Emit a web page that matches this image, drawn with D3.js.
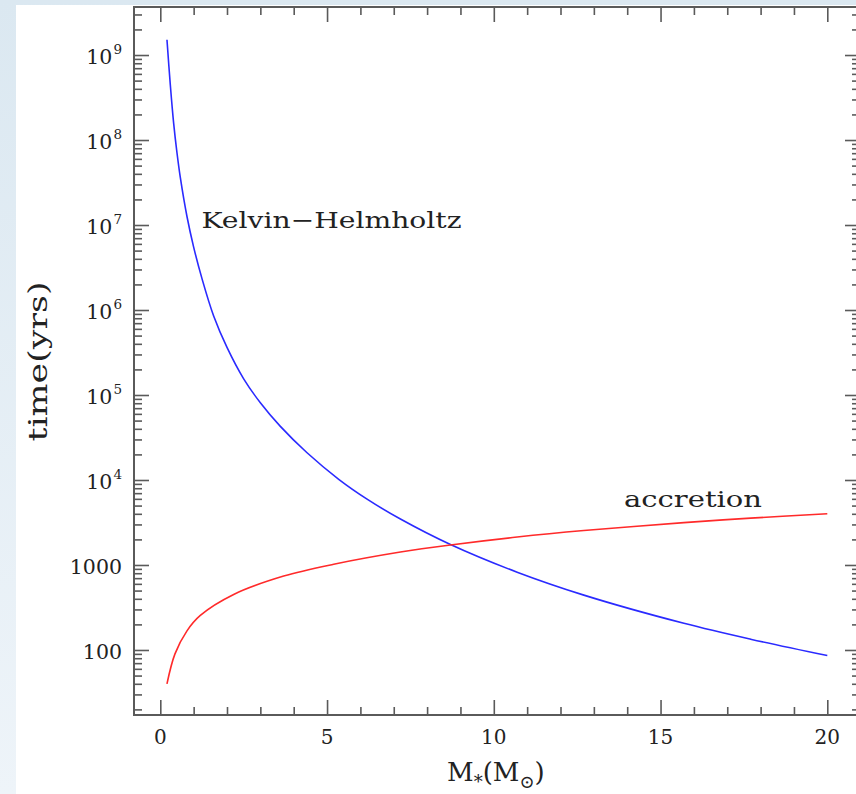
<!DOCTYPE html>
<html>
<head>
<meta charset="utf-8">
<script src="https://cdn.jsdelivr.net/npm/d3@7"></script>
<style>
  body { margin: 0; background: #fff; }
  svg { display: block; }
  text { font-family: "DejaVu Serif", serif; fill: #222; }
</style>
</head>
<body>
<svg id="chart" width="856" height="794"></svg>
<script>
// Kelvin-Helmholtz time vs stellar mass
const massKH = [0.2, 0.3, 0.4, 0.5, 0.6, 0.8, 1.0, 1.25, 1.6, 2.0, 2.5, 3.0, 3.6, 4.4, 5.35, 6.2, 7.2, 8.7, 10.7, 12.7, 15.7, 17.7, 20];
const timeKH = [1.51e9, 4.47e8, 1.58e8, 7.08e7, 3.63e7, 1.26e7, 5.5e6, 2.34e6, 8.5e5, 3.63e5, 1.55e5, 8.1e4, 4.27e4, 2.09e4, 1.02e4, 5960, 3470, 1740, 822, 442, 206, 134, 86];

// accretion time vs stellar mass
const massAcc = [0.2, 0.44, 0.8, 1.2, 2.2, 3.7, 5.2, 7.2, 8.7, 10.7, 12.7, 15.7, 17.7, 20];
const timeAcc = [40, 90, 168, 255, 450, 740, 1020, 1420, 1720, 2130, 2540, 3150, 3560, 4000];

const xMajorTicks = [0, 5, 10, 15, 20];
const xMinorTicks = [1, 2, 3, 4, 6, 7, 8, 9, 11, 12, 13, 14, 16, 17, 18, 19];
const yDecades = [100, 1000, 1e4, 1e5, 1e6, 1e7, 1e8, 1e9];
const yDecadeLabels = [["100", ""], ["1000", ""], ["10", "4"], ["10", "5"], ["10", "6"], ["10", "7"], ["10", "8"], ["10", "9"]];

const svg = d3.select("#chart");

// page background: light blue margin round a white panel
const defs = svg.append("defs");
const bg = defs.append("linearGradient").attr("id", "bg")
  .attr("x1", 0).attr("y1", 0).attr("x2", 0).attr("y2", 1);
bg.append("stop").attr("offset", 0).attr("stop-color", "#dbe8f1");
bg.append("stop").attr("offset", 1).attr("stop-color", "#eef4f9");
svg.append("rect").attr("width", 856).attr("height", 794).attr("fill", "url(#bg)");
svg.append("rect").attr("x", 16).attr("y", 5).attr("width", 840).attr("height", 789).attr("fill", "#fff");

// plot frame (pixels)
const plotLeft = 134, plotRight = 860, plotTop = 7, plotBottom = 715;

const x = d3.scaleLinear().domain([0, 20]).range([160.3, 827.3]);
const y = d3.scaleLog().domain([Math.pow(10, 1.235), Math.pow(10, 9.565)]).range([plotBottom, plotTop]);

const yMinorTicks = [];
for (let e = 1; e <= 9; e++) {
  for (let m = 2; m <= 9; m++) {
    const v = m * Math.pow(10, e);
    if (v >= y.domain()[0] && v <= y.domain()[1]) yMinorTicks.push(v);
  }
}

const axisColor = "#5a5a5a";
function styleAxis(g) {
  g.select(".domain").remove();
  g.selectAll("line").attr("stroke", axisColor).attr("stroke-width", 1.6);
  g.selectAll("text").remove();
}

// ticks on all four sides, pointing inwards
svg.append("g").attr("transform", `translate(0,${plotBottom})`)
  .call(d3.axisBottom(x).tickValues(xMajorTicks).tickSize(-15)).call(styleAxis);
svg.append("g").attr("transform", `translate(0,${plotBottom})`)
  .call(d3.axisBottom(x).tickValues(xMinorTicks).tickSize(-8)).call(styleAxis);
svg.append("g").attr("transform", `translate(0,${plotTop})`)
  .call(d3.axisTop(x).tickValues(xMajorTicks).tickSize(-15)).call(styleAxis);
svg.append("g").attr("transform", `translate(0,${plotTop})`)
  .call(d3.axisTop(x).tickValues(xMinorTicks).tickSize(-8)).call(styleAxis);

svg.append("g").attr("transform", `translate(${plotLeft},0)`)
  .call(d3.axisLeft(y).tickValues(yDecades).tickSize(-15)).call(styleAxis);
svg.append("g").attr("transform", `translate(${plotLeft},0)`)
  .call(d3.axisLeft(y).tickValues(yMinorTicks).tickSize(-8)).call(styleAxis);
svg.append("g").attr("transform", `translate(${plotRight},0)`)
  .call(d3.axisRight(y).tickValues(yDecades).tickSize(-15)).call(styleAxis);
svg.append("g").attr("transform", `translate(${plotRight},0)`)
  .call(d3.axisRight(y).tickValues(yMinorTicks).tickSize(-8)).call(styleAxis);

// frame
svg.append("rect")
  .attr("x", plotLeft).attr("y", plotTop)
  .attr("width", plotRight - plotLeft).attr("height", plotBottom - plotTop)
  .attr("fill", "none").attr("stroke", axisColor).attr("stroke-width", 2);

// x tick labels
svg.append("g").selectAll("text").data(xMajorTicks).join("text")
  .attr("x", d => x(d)).attr("y", 743.5)
  .attr("text-anchor", "middle").attr("font-size", 20)
  .text(d => d);

// y tick labels (100, 1000, 10^4 ...)
const yl = svg.append("g").selectAll("text").data(yDecades).join("text")
  .attr("x", 122).attr("y", d => y(d) + 9)
  .attr("text-anchor", "end").attr("font-size", 20.5);
yl.each(function(d, i) {
  const t = d3.select(this);
  const [base, sup] = yDecadeLabels[i];
  t.append("tspan").text(base);
  if (sup) t.append("tspan").attr("dx", 1).attr("dy", -10).attr("font-size", 13.5).text(sup);
});

// curves
const line = d3.line().x(d => x(d[0])).y(d => y(d[1])).curve(d3.curveCatmullRom.alpha(0.5));
svg.append("path")
  .attr("d", line(d3.zip(massKH, timeKH)))
  .attr("fill", "none").attr("stroke", "#2a2aff").attr("stroke-width", 1.6);
svg.append("path")
  .attr("d", line(d3.zip(massAcc, timeAcc)))
  .attr("fill", "none").attr("stroke", "#ff2a2a").attr("stroke-width", 1.6);

// curve labels
svg.append("text").attr("x", 201.5).attr("y", 228).attr("font-size", 23)
  .attr("textLength", 260).attr("lengthAdjust", "spacingAndGlyphs")
  .text("Kelvin\u2212Helmholtz");
svg.append("text").attr("x", 624).attr("y", 506.5).attr("font-size", 23)
  .attr("textLength", 138).attr("lengthAdjust", "spacingAndGlyphs")
  .text("accretion");

// axis titles
svg.append("text")
  .attr("transform", "translate(46.5,361.5) rotate(-90)")
  .attr("text-anchor", "middle").attr("font-size", 26)
  .attr("textLength", 160).attr("lengthAdjust", "spacingAndGlyphs")
  .text("time(yrs)");

const xt = svg.append("text").attr("x", 447).attr("y", 781).attr("font-size", 26);
xt.append("tspan").text("M");
xt.append("tspan").attr("dy", 7).attr("font-size", 18).text("*");
xt.append("tspan").attr("dy", -7).text("(M");
xt.append("tspan").attr("dy", 7).attr("font-size", 18).text("\u2299");
xt.append("tspan").attr("dy", -7).text(")");
</script>
</body>
</html>
